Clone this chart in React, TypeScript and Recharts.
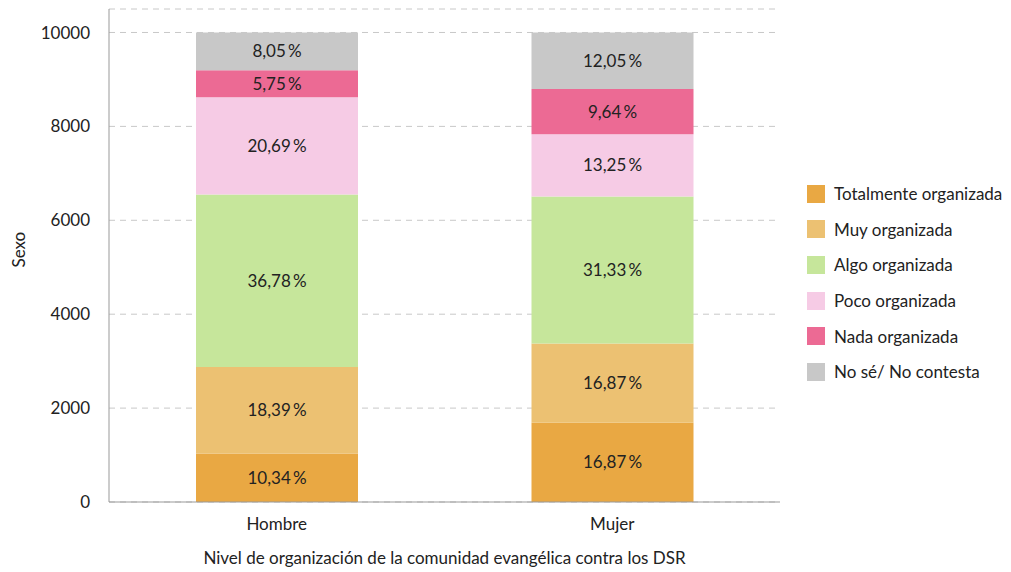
import React from 'react';
import {BarChart, Bar, XAxis, YAxis, CartesianGrid, LabelList} from 'recharts';

const categories = ['Hombre', 'Mujer'];
const totalmente = [10.34, 16.87];
const muy = [18.39, 16.87];
const algo = [36.78, 31.33];
const poco = [20.69, 13.25];
const nada = [5.75, 9.64];
const noSe = [8.05, 12.05];
const yTicks = [0, 2000, 4000, 6000, 8000, 10000];

const series = [
    {key: 'totalmente', name: 'Totalmente organizada', values: totalmente, color: '#E9A843'},
    {key: 'muy', name: 'Muy organizada', values: muy, color: '#ECC172'},
    {key: 'algo', name: 'Algo organizada', values: algo, color: '#C6E69B'},
    {key: 'poco', name: 'Poco organizada', values: poco, color: '#F6CBE5'},
    {key: 'nada', name: 'Nada organizada', values: nada, color: '#EC6A94'},
    {key: 'noSe', name: 'No sé/ No contesta', values: noSe, color: '#C8C8C8'},
];

// values are percentages, the chart axis counts them x100
const data = categories.map((cat, i) => {
    const row = {name: cat};
    series.forEach((s) => {
        row[s.key] = s.values[i] * 100;
        row[s.key + 'Pct'] = s.values[i];
    });
    return row;
});

const FONT = 'Lato, "Open Sans", sans-serif';
const FS = 17;

const fmt = (v) => v.toFixed(2).replace('.', ',') + '\u2009%';

const LegendBox = () => (
    <div style={{position: 'absolute', left: 807, top: 176, fontFamily: FONT, fontSize: FS, color: '#222'}}>
        {series.map((s) => (
            <div key={s.key} style={{display: 'flex', alignItems: 'center', height: 35.6}}>
                <span style={{width: 18, height: 18, background: s.color, marginRight: 9, display: 'inline-block'}}/>
                <span>{s.name}</span>
            </div>
        ))}
    </div>
);

const App = () => {
    return (
        <div style={{position: 'fixed', left: 0, top: 0, width: 1011, height: 572, background: '#fff'}}>
            <BarChart
                width={1011}
                height={572}
                data={data}
                margin={{top: 9, right: 231, bottom: 0, left: 9}}
                barCategoryGap={87}
            >
                <CartesianGrid vertical={false} stroke="#c8c8c8" strokeDasharray="6 5"/>
                <XAxis
                    dataKey="name"
                    height={70}
                    tickLine={false}
                    axisLine={{stroke: '#999'}}
                    tick={{fill: '#222', fontSize: FS, fontFamily: FONT}}
                    tickMargin={10}
                    label={{value: 'Nivel de organización de la comunidad evangélica contra los DSR', position: 'insideBottom', offset: 8, fill: '#222', fontSize: FS, fontFamily: FONT}}
                />
                <YAxis
                    width={100}
                    domain={[0, 10500]}
                    ticks={yTicks}
                    tickLine={false}
                    axisLine={{stroke: '#999'}}
                    tick={{fill: '#222', fontSize: FS, fontFamily: FONT}}
                    tickMargin={13}
                    label={{value: 'Sexo', angle: -90, position: 'insideLeft', offset: 10, dy: 12, fill: '#222', fontSize: FS, fontFamily: FONT}}
                />
                {series.map((s) => (
                    <Bar key={s.key} dataKey={s.key} name={s.name} stackId="a" fill={s.color} isAnimationActive={false}>
                        <LabelList
                            dataKey={s.key + 'Pct'}
                            position="center"
                            formatter={fmt}
                            style={{fill: '#222', fontSize: FS, fontFamily: FONT}}
                        />
                    </Bar>
                ))}
            </BarChart>
            <LegendBox/>
        </div>
    );
};

export default App;
